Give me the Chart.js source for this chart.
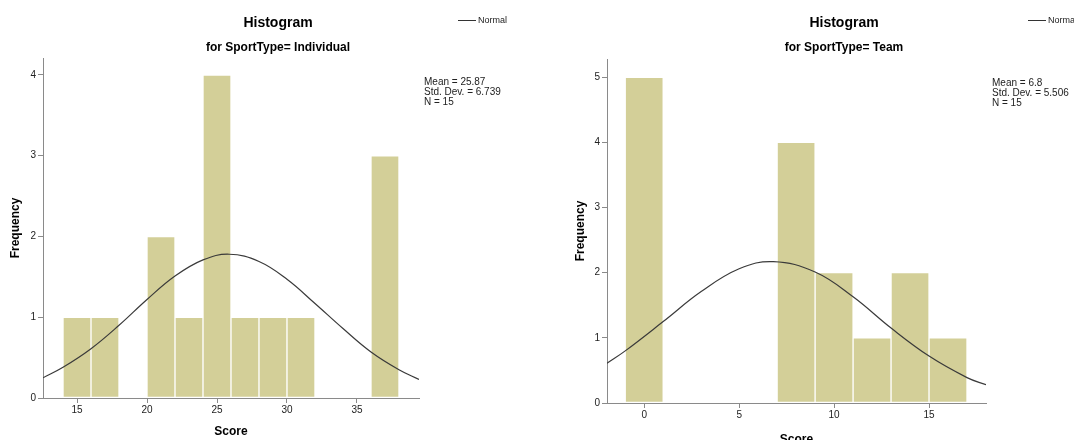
<!DOCTYPE html>
<html>
<head>
<meta charset="utf-8">
<script src="https://cdn.jsdelivr.net/npm/chart.js@4.4.1/dist/chart.umd.min.js"></script>
<style>
  html, body { margin: 0; padding: 0; background: #fff; overflow: hidden; }
  body { width: 1074px; height: 440px; position: relative; }
  canvas { position: absolute; top: 0; }
  #indiv { left: 0; }
  #team { left: 540px; }
</style>
</head>
<body>
<canvas id="indiv" width="540" height="440"></canvas>
<canvas id="team" width="534" height="450"></canvas>
<script>
// Individual
const indivBins = [15, 17, 19, 21, 23, 25, 27, 29, 31, 33, 35, 37];
const indivCounts = [1, 1, 0, 2, 1, 4, 1, 1, 1, 0, 0, 3];
const indivCurveX = [12.57, 14, 16, 18, 20, 22, 24, 25.87, 28, 30, 32, 34, 36, 38, 39.43];
const indivCurveY = [0.25, 0.38, 0.61, 0.90, 1.22, 1.51, 1.71, 1.78, 1.69, 1.47, 1.17, 0.86, 0.57, 0.35, 0.23];
const indivStats = ["Mean = 25.87", "Std. Dev. = 6.739", "N = 15"];

// Team
const teamBins = [0, 2, 4, 6, 8, 10, 12, 14, 16];
const teamCounts = [5, 0, 0, 0, 4, 2, 1, 2, 1];
const teamCurveX = [-1.96, -1, 1, 3, 5, 6.8, 9, 11, 13, 15, 17, 18];
const teamCurveY = [0.61, 0.80, 1.25, 1.71, 2.06, 2.17, 2.01, 1.63, 1.15, 0.72, 0.39, 0.28];
const teamStats = ["Mean = 6.8", "Std. Dev. = 5.506", "N = 15"];

const FONT = "'Liberation Sans', Arial, sans-serif";
const AXIS = "#8a8a8a";

// titles, stats box and the little "Normal" key, SPSS style
const notesPlugin = {
  id: "notes",
  afterDraw(chart, args, o) {
    const ctx = chart.ctx;
    ctx.save();
    ctx.fillStyle = "#000";
    ctx.textAlign = "center";
    ctx.textBaseline = "middle";
    ctx.font = "bold 14px " + FONT;
    ctx.fillText("Histogram", o.titleX, 23);
    ctx.font = "bold 12px " + FONT;
    ctx.fillText(o.subtitle, o.titleX, 48);

    ctx.textAlign = "left";
    ctx.font = "10px " + FONT;
    ctx.fillStyle = "#222";
    o.stats.forEach((s, i) => ctx.fillText(s, o.statsX, o.statsY + i * 10));

    ctx.strokeStyle = "#333";
    ctx.lineWidth = 1;
    ctx.beginPath();
    ctx.moveTo(o.keyX, 20.5);
    ctx.lineTo(o.keyX + 18, 20.5);
    ctx.stroke();
    ctx.font = "9px " + FONT;
    ctx.fillText("Normal", o.keyX + 20, 21);
    ctx.restore();
  }
};

function makeChart(id, bins, counts, curveX, curveY, cfg) {
  const tickFont = { family: FONT, size: 10 };
  const titleFont = { family: FONT, size: 12, weight: "bold" };
  return new Chart(document.getElementById(id), {
    type: "bar",
    data: {
      datasets: [
        {
          type: "line",
          label: "Normal",
          data: curveX.map((x, i) => ({ x: x, y: curveY[i] })),
          borderColor: "#3a3a3a",
          borderWidth: 1.2,
          pointRadius: 0,
          tension: 0.4,
          order: 0
        },
        {
          label: "Frequency",
          data: bins.map((x, i) => ({ x: x, y: counts[i] })),
          backgroundColor: "#d3cf98",
          borderColor: "rgba(255,255,255,0.75)",
          borderWidth: 1,
          borderSkipped: false,
          barPercentage: 1,
          categoryPercentage: 1,
          order: 1
        }
      ]
    },
    options: {
      responsive: false,
      animation: false,
      layout: { padding: { top: cfg.top, right: cfg.right, left: 0, bottom: 0 } },
      plugins: {
        legend: { display: false },
        tooltip: { enabled: false },
        notes: cfg.notes
      },
      scales: {
        x: {
          type: "linear",
          min: cfg.xMin,
          max: cfg.xMax,
          offset: false,
          afterFit: (s) => { s.height = cfg.xHeight; },
          border: { color: AXIS, width: 1 },
          grid: { drawOnChartArea: false, tickLength: 5, color: AXIS, offset: false },
          ticks: { stepSize: 5, includeBounds: false, font: tickFont, color: "#222", padding: 1, maxRotation: 0 },
          title: { display: true, text: "Score", font: titleFont, color: "#000", padding: { top: 0, bottom: cfg.scorePad } }
        },
        y: {
          min: 0,
          max: cfg.yMax,
          afterFit: (s) => { s.width = cfg.yWidth; },
          border: { color: AXIS, width: 1 },
          grid: { drawOnChartArea: false, tickLength: 5, color: AXIS },
          ticks: { stepSize: 1, includeBounds: false, font: tickFont, color: "#222", padding: 2 },
          title: { display: true, text: "Frequency", font: titleFont, color: "#000", padding: { top: cfg.freqPad, bottom: 0 } }
        }
      }
    },
    plugins: [notesPlugin]
  });
}

makeChart("indiv", indivBins, indivCounts, indivCurveX, indivCurveY, {
  top: 58, right: 121, xHeight: 42, yWidth: 43,
  xMin: 12.57, xMax: 39.43, yMax: 4.21, scorePad: 1, freqPad: 8,
  notes: { titleX: 278, subtitle: "for SportType= Individual", stats: indivStats, statsX: 424, statsY: 82, keyX: 458 }
});

makeChart("team", teamBins, teamCounts, teamCurveX, teamCurveY, {
  top: 59, right: 88, xHeight: 47, yWidth: 67,
  xMin: -1.96, xMax: 18, yMax: 5.28, scorePad: 3, freqPad: 33,
  notes: { titleX: 304, subtitle: "for SportType= Team", stats: teamStats, statsX: 452, statsY: 83, keyX: 488 }
});
</script>
</body>
</html>
